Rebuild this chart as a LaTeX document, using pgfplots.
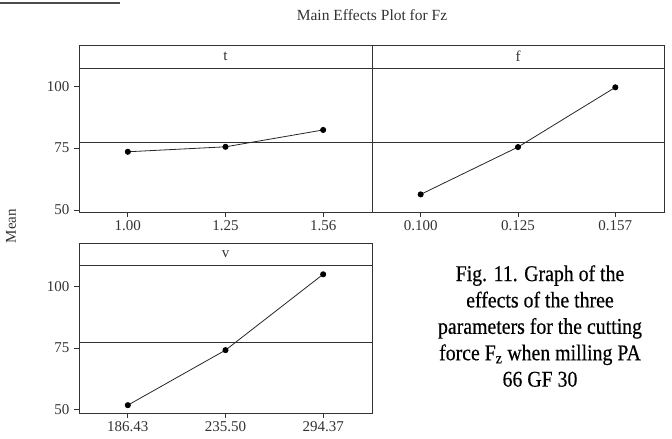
\documentclass[border=0pt]{standalone}
\usepackage{fontspec}
\setmainfont{Liberation Serif}
\newfontfamily\capfont{Liberation Serif}[FakeStretch=0.88,FakeBold=0.4]
\usepackage{pgfplots}
\pgfplotsset{compat=1.18}
\definecolor{fr}{gray}{0.2}
\begin{document}
\begin{tikzpicture}[x=1pt,y=1pt]
\path[use as bounding box] (0,0) rectangle (672,439);
\pgfplotsset{
  panel/.style={
    scale only axis, anchor=north west, clip=false,
    xmin=-0.5, xmax=2.5, xtick={0,1,2},
    ytick={50,75,100},
    xtick pos=lower, ytick pos=left,
    tick align=outside, major tick length=5pt,
    every tick/.style={fr, line width=0.7pt},
    axis line style={fr, line width=0.9pt},
    tick label style={font=\fontsize{15}{15}\selectfont, text=fr},
    /pgf/number format/assume math mode=true,
    yticklabel style={xshift=-1pt},
  },
  ref/.style={fr, line width=0.7pt, forget plot},
  ser/.style={black!85, line width=0.8pt, mark=*, mark size=2.6pt, mark options={fill=black, draw=black}},
}
% top-left: t
\begin{axis}[panel, at={(79pt,371pt)}, width=293pt, height=144pt,
  ymin=49.2, ymax=107.3, xticklabels={1.00,1.25,1.56}]
\addplot[ref] coordinates {(-0.5,77.2) (2.5,77.2)};
\addplot[ser] coordinates {(0,73.5) (1,75.5) (2,82.3)};
\end{axis}
% top-right: f
\begin{axis}[panel, at={(372pt,371pt)}, width=292pt, height=144pt,
  ymin=49.2, ymax=107.3, ytick=\empty, xticklabels={0.100,0.125,0.157}]
\addplot[ref] coordinates {(-0.5,77.2) (2.5,77.2)};
\addplot[ser] coordinates {(0,56.3) (1,75.4) (2,99.5)};
\end{axis}
% bottom: v
\begin{axis}[panel, at={(79pt,174pt)}, width=293pt, height=148pt,
  ymin=48.4, ymax=108.9, xticklabels={186.43,235.50,294.37}]
\addplot[ref] coordinates {(-0.5,77.2) (2.5,77.2)};
\addplot[ser] coordinates {(0,51.6) (1,74.1) (2,105.1)};
\end{axis}
% strips
\draw[fr, line width=0.9pt] (79,371) rectangle (664,394);
\draw[fr, line width=0.9pt] (372,371) -- (372,394);
\draw[fr, line width=0.9pt] (79,174) rectangle (372,196);
\node[text=fr, font=\fontsize{15}{15}\selectfont] at (225.5,382.5) {t};
\node[text=fr, font=\fontsize{15}{15}\selectfont] at (518,382.5) {f};
\node[text=fr, font=\fontsize{15}{15}\selectfont] at (225.5,185) {v};
% title and y label
\node[text=fr, font=\fontsize{15.5}{15.5}\selectfont] at (372,424) {Main Effects Plot for Fz};
\node[text=fr, font=\fontsize{15}{15}\selectfont, rotate=90] at (11,213) {Mean};
% rule top-left
\draw[black!70, line width=1.5pt] (0,436) -- (120,436);
% caption
\node[anchor=north, align=center, inner sep=0pt,
  font=\capfont\fontsize{22.5}{26.4}\selectfont] at (540,174)
  {Fig. 11. Graph of the\\ effects of the three\\ parameters for the cutting\\ force F\textsubscript{z} when milling PA\\ 66 GF 30};
\end{tikzpicture}
\end{document}
